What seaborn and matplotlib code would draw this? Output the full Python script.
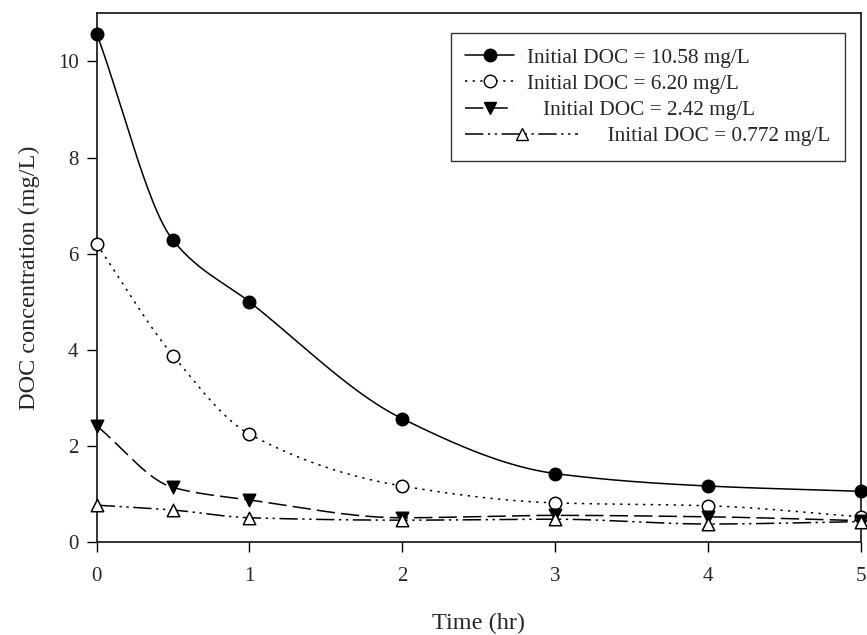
import numpy as np
import pandas as pd
import seaborn as sns
from matplotlib import pyplot as plt
from matplotlib.lines import Line2D
from matplotlib.legend_handler import HandlerLine2D

# sampling times (hr)
time_hr = [0, 0.5, 1, 2, 3, 4, 5]

# DOC concentration (mg/L)
doc_1058 = [10.58, 6.28, 5.00, 2.57, 1.43, 1.17, 1.06]
doc_620 = [6.20, 3.88, 2.25, 1.17, 0.82, 0.76, 0.53]
doc_242 = [2.42, 1.14, 0.88, 0.51, 0.56, 0.53, 0.45]
doc_0772 = [0.772, 0.67, 0.51, 0.46, 0.48, 0.38, 0.43]

labels = ['Initial DOC = 10.58 mg/L', 'Initial DOC = 6.20 mg/L',
          'Initial DOC = 2.42 mg/L', 'Initial DOC = 0.772 mg/L']


def pchip(x, y, n=300):
    # monotone cubic through the points (for the smooth connecting line)
    x = np.asarray(x, float)
    y = np.asarray(y, float)
    h = np.diff(x)
    d = np.diff(y) / h
    m = np.zeros_like(y)
    for i in range(1, len(x) - 1):
        if d[i - 1] * d[i] > 0:
            w1 = 2 * h[i] + h[i - 1]
            w2 = h[i] + 2 * h[i - 1]
            m[i] = (w1 + w2) / (w1 / d[i - 1] + w2 / d[i])
    m[0] = d[0]
    m[-1] = d[-1]
    xs = np.linspace(x[0], x[-1], n)
    j = np.clip(np.searchsorted(x, xs) - 1, 0, len(x) - 2)
    t = (xs - x[j]) / h[j]
    h00 = 2 * t ** 3 - 3 * t ** 2 + 1
    h10 = t ** 3 - 2 * t ** 2 + t
    h01 = -2 * t ** 3 + 3 * t ** 2
    h11 = t ** 3 - t ** 2
    ys = h00 * y[j] + h10 * h[j] * m[j] + h01 * y[j + 1] + h11 * h[j] * m[j + 1]
    return xs, ys


class LongHandler(HandlerLine2D):
    def create_artists(self, legend, orig_handle, xdescent, ydescent,
                       width, height, fontsize, trans):
        return super().create_artists(legend, orig_handle, xdescent, ydescent,
                                      width * 2.3, height, fontsize, trans)


sns.set_style('ticks')
plt.rcParams['font.family'] = ['Liberation Serif', 'DejaVu Serif']

fig = plt.figure(figsize=(8.67, 6.35), dpi=100)
ax = fig.add_axes([0.1115, 0.146, 0.8812, 0.833])

series = [doc_1058, doc_620, doc_242, doc_0772]
styles = [
    dict(ls='-', marker='o', mfc='black'),
    dict(ls=(0, (1.5, 3.5)), marker='o', mfc='white'),
    dict(ls=(0, (12, 4)), marker='v', mfc='black'),
    dict(ls=(0, (12, 3, 1.5, 3, 1.5, 3)), marker='^', mfc='white'),
]

for vals, st in zip(series, styles):
    xs, ys = pchip(time_hr, vals)
    curve = pd.DataFrame({'t': xs, 'c': ys})
    sns.lineplot(data=curve, x='t', y='c', ax=ax, color='black',
                 linewidth=1.1, linestyle=st['ls'], estimator=None, sort=False)
    pts = pd.DataFrame({'t': time_hr, 'c': vals})
    sns.scatterplot(data=pts, x='t', y='c', ax=ax, marker=st['marker'],
                    s=80, color=st['mfc'], edgecolor='black', linewidth=1.1,
                    zorder=5, clip_on=False)

ax.set_xlim(0, 5)
ax.set_ylim(0, 11)
ax.set_xticks([0, 1, 2, 3, 4, 5])
ax.set_yticks([0, 2, 4, 6, 8, 10])
ax.tick_params(direction='out', length=7, width=1, labelsize=15, color='black')
ax.tick_params(axis='x', pad=11)
ax.tick_params(axis='y', pad=6)
for s in ax.spines.values():
    s.set_color('#222222')
    s.set_linewidth(1.3)

ax.set_xlabel('Time (hr)', fontsize=17.5, labelpad=19)
ax.set_ylabel('DOC concentration (mg/L)', fontsize=17.5, labelpad=13)

handles = []
for st in styles:
    handles.append(Line2D([], [], color='black', linewidth=1.1, linestyle=st['ls'],
                          marker=st['marker'], markersize=9,
                          markerfacecolor=st['mfc'], markeredgecolor='black'))
leg_labels = [labels[0], labels[1], '   ' + labels[2], '               ' + labels[3]]
leg = ax.legend(handles, leg_labels, loc='upper right', bbox_to_anchor=(0.9795, 0.963),
                fontsize=15.3, frameon=True, fancybox=False, edgecolor='black',
                handlelength=2.3, handletextpad=0.6, labelspacing=0.3,
                borderpad=0.7, borderaxespad=0,
                handler_map={handles[3]: LongHandler()})
leg.get_frame().set_linewidth(1.0)

fig.savefig('out.png', dpi=100)
